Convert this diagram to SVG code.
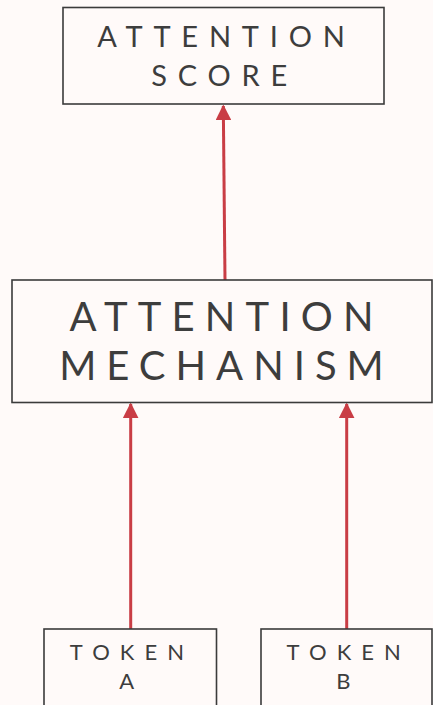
<svg xmlns="http://www.w3.org/2000/svg" width="433" height="705" viewBox="0 0 433 705">
<defs>
<style>
.box{fill:#fffaf9;stroke:#3b3b3b;stroke-width:1.6}
.t{font-family:Lato,"Open Sans","Liberation Sans",sans-serif;fill:#3d3d3d;text-anchor:middle}
.edge{stroke:#c93d45;stroke-width:3;fill:none}
</style>
<marker id="ah" viewBox="0 0 10 10" refX="9" refY="5" markerWidth="5.2" markerHeight="5.2" orient="auto" markerUnits="strokeWidth">
<path d="M0,0 L10,5 L0,10 z" fill="#c93d45"/>
</marker>
</defs>
<rect width="433" height="705" fill="#fffaf9"/>
<g id="connectors">
<path class="edge" d="M225,280 L223.3,106" marker-end="url(#ah)"/>
<path class="edge" d="M130.7,629 L130.7,404" marker-end="url(#ah)"/>
<path class="edge" d="M346.7,629 L346.7,404" marker-end="url(#ah)"/>
</g>
<g id="score">
<rect class="box" x="63" y="7.5" width="321" height="96.5"/>
<text class="t" font-size="29" letter-spacing="10.8" x="226.4" y="47">ATTENTION</text>
<text class="t" font-size="29" letter-spacing="10.8" x="224.7" y="86">SCORE</text>
</g>
<g id="mechanism">
<rect class="box" x="12" y="280" width="420" height="122.5"/>
<text class="t" font-size="40" letter-spacing="10.2" x="226.6" y="330.5">ATTENTION</text>
<text class="t" font-size="40" letter-spacing="10" x="226.5" y="380">MECHANISM</text>
</g>
<g id="tokenA">
<rect class="box" x="44" y="629" width="172.5" height="90"/>
<text class="t" font-size="22" letter-spacing="10.1" x="132" y="660">TOKEN</text>
<text class="t" font-size="22" letter-spacing="10.1" x="131.7" y="689">A</text>
</g>
<g id="tokenB">
<rect class="box" x="261" y="629" width="171" height="90"/>
<text class="t" font-size="22" letter-spacing="10.1" x="348.8" y="660">TOKEN</text>
<text class="t" font-size="22" letter-spacing="10.1" x="348.4" y="689">B</text>
</g>
</svg>
